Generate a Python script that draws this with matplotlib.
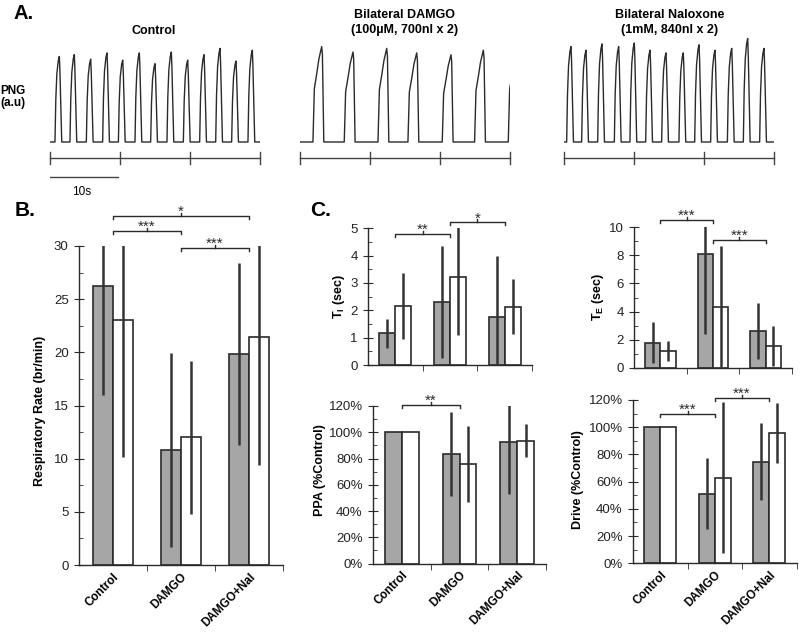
import numpy as np
import matplotlib
matplotlib.use('Agg')
import matplotlib.pyplot as plt
from matplotlib.ticker import MultipleLocator, FixedLocator, PercentFormatter

plt.rcParams['font.family'] = ['Liberation Sans', 'DejaVu Sans']
plt.rcParams['mathtext.fontset'] = 'custom'
plt.rcParams['mathtext.rm'] = 'Liberation Sans'
plt.rcParams['mathtext.bf'] = 'Liberation Sans:bold'

W, H = 800, 633

# ---- A. phrenic neurogram: burst peak times (s) and peak heights (a.u.)
ctrl_peak_t = [1.33, 3.47, 5.81, 8.14, 10.39, 12.76, 15.0, 17.33, 19.67, 22.0, 24.29, 26.57, 28.9]
ctrl_peak_h = [0.95, 0.97, 0.92, 0.99, 0.91, 0.99, 0.87, 1.0, 0.91, 0.97, 1.04, 0.9, 1.02]
damgo_peak_t = [3.1, 7.57, 12.39, 16.67, 21.57, 26.19, 31.0]
damgo_peak_h = [1.06, 1.0, 1.04, 0.99, 0.97, 1.02, 1.05]
nal_peak_t = [1.0, 3.14, 5.43, 7.81, 10.04, 12.29, 14.57, 17.04, 19.29, 21.57, 23.96, 26.24, 28.57]
nal_peak_h = [1.06, 1.02, 1.09, 1.06, 1.1, 1.02, 0.99, 0.99, 1.08, 1.02, 1.04, 1.15, 1.04]
trace_titles = ['Control', 'Bilateral DAMGO\n(100µM, 700nl x 2)', 'Bilateral Naloxone\n(1mM, 840nl x 2)']

# ---- B/C. group means and errors (grey bars, white bars)
conditions = ['Control', 'DAMGO', 'DAMGO+Nal']
rr_grey = [26.2, 10.8, 19.85]
rr_grey_err = [10.2, 9.1, 8.55]
rr_white = [23.0, 12.0, 21.4]
rr_white_err = [12.8, 7.2, 12.0]

ti_grey = [1.16, 2.3, 1.77]
ti_grey_err = [0.52, 2.05, 2.2]
ti_white = [2.16, 3.21, 2.13]
ti_white_err = [1.2, 2.1, 1.0]

te_grey = [1.78, 8.07, 2.61]
te_grey_err = [1.45, 5.7, 2.0]
te_white = [1.19, 4.35, 1.55]
te_white_err = [0.7, 4.3, 1.45]

ppa_grey = [1.0, 0.836, 0.922]
ppa_grey_err = [0.0, 0.32, 0.39]
ppa_white = [1.0, 0.757, 0.937]
ppa_white_err = [0.0, 0.29, 0.126]

drive_grey = [1.0, 0.512, 0.746]
drive_grey_err = [0.0, 0.263, 0.282]
drive_white = [1.0, 0.629, 0.955]
drive_white_err = [0.0, 0.555, 0.22]

# significance brackets: (from, to, height, label)
rr_sig = [(0, 2, 32.85, '*'), (0, 1, 31.4, '***'), (1, 2, 29.8, '***')]
ti_sig = [(0, 1, 4.79, '**'), (1, 2, 5.22, '*')]
te_sig = [(0, 1, 10.5, '***'), (1, 2, 9.1, '***')]
ppa_sig = [(0, 1, 1.21, '**')]
drive_sig = [(0, 1, 1.096, '***'), (1, 2, 1.217, '***')]

DARK = '#2a2a2a'
GREY = '#a6a6a6'


def px_rect(left, top, right, bottom):
    return [left / W, 1 - bottom / H, (right - left) / W, (bottom - top) / H]


def burst_trace(peak_t, peak_h, shape, t_end=30.0):
    t = [0.0]
    v = [0.0]
    for pt, ph in zip(peak_t, peak_h):
        for dt, frac in shape:
            t.append(pt + dt)
            v.append(ph * frac)
    if t[-1] < t_end:
        t.append(t_end)
        v.append(0.0)
    return np.array(t), np.array(v)


fast_shape = [(-0.62, 0), (-0.5, 0.5), (-0.35, 0.8), (-0.15, 0.95), (0, 1.0), (0.08, 0.85), (0.35, 0.0)]
slow_shape = [(-1.25, 0), (-1.05, 0.56), (-0.7, 0.72), (-0.4, 0.87), (0, 1.0), (0.1, 0.92), (0.3, 0.0)]

fig = plt.figure(figsize=(W / 100, H / 100), dpi=100)

# ---------------- panel A
trace_data = [(ctrl_peak_t, ctrl_peak_h, fast_shape),
              (damgo_peak_t, damgo_peak_h, slow_shape),
              (nal_peak_t, nal_peak_h, fast_shape)]
trace_left = [50, 300, 564]
y_base, px_unit = 142, 90.0
for i, (pt, ph, shp) in enumerate(trace_data):
    ax = fig.add_axes(px_rect(trace_left[i], 36, trace_left[i] + 210, 200))
    ax.set_xlim(0, 30)
    ax.set_ylim(-(200 - y_base) / px_unit, (y_base - 36) / px_unit)
    ax.axis('off')
    t, v = burst_trace(pt, ph, shp)
    ax.plot(t, v, color=DARK, lw=1.0)
    # time base with 10 s ticks
    ty = -(158 - y_base) / px_unit
    dy = 6 / px_unit
    ax.plot([0, 30], [ty, ty], color='#444', lw=1.0, clip_on=False)
    for tk in [0, 10, 20, 30]:
        ax.plot([tk, tk], [ty - dy, ty + dy], color='#444', lw=1.0, clip_on=False)
    if i == 0:
        sy = -(177 - y_base) / px_unit
        ax.plot([0, 9.7], [sy, sy], color='#444', lw=1.0)
        ax.text(4.5, -(195 - y_base) / px_unit, '10s', ha='center', va='baseline', fontsize=8.5)

fig.text(154 / W, 1 - 34 / H, trace_titles[0], ha='center', va='baseline', fontsize=9, fontweight='bold')
for xc, title in [(405, trace_titles[1]), (670, trace_titles[2])]:
    l1, l2 = title.split('\n')
    fig.text(xc / W, 1 - 18.5 / H, l1, ha='center', va='baseline', fontsize=9, fontweight='bold')
    fig.text(xc / W, 1 - 33 / H, l2, ha='center', va='baseline', fontsize=9, fontweight='bold')
fig.text(13 / W, 1 - 94 / H, 'PNG', ha='center', va='baseline', fontsize=8.5, fontweight='bold')
fig.text(13 / W, 1 - 106 / H, '(a.u)', ha='center', va='baseline', fontsize=8.5, fontweight='bold')

fig.text(13 / W, 1 - 19 / H, 'A.', ha='left', va='baseline', fontsize=14.5, fontweight='bold')
fig.text(15 / W, 1 - 216.5 / H, 'B.', ha='left', va='baseline', fontsize=15, fontweight='bold')
fig.text(310 / W, 1 - 216.5 / H, 'C.', ha='left', va='baseline', fontsize=15, fontweight='bold')


# ---------------- bar panels
def bracket(ax, x0, x1, y, label):
    ymin, ymax = ax.get_ylim()
    d = 3 * (ymax - ymin) / (ax.get_position().height * H)
    ax.plot([x0, x0, x1, x1], [y - d, y, y, y - d], color=DARK, lw=1.0, clip_on=False)
    xm = (x0 + x1) / 2
    ax.plot([xm, xm], [y, y + d], color=DARK, lw=1.0, clip_on=False)
    ax.text(xm, y, label, ha='center', va='baseline', fontsize=11, color=DARK, clip_on=False)


def bar_panel(rect, grey, grey_err, white, white_err, ymax, major, minor, sig, pct=False, xlabels=True):
    ax = fig.add_axes(rect)
    x = np.arange(len(conditions))
    w = 0.29
    grey = np.array(grey)
    white = np.array(white)
    ge = np.array(grey_err)
    we = np.array(white_err)
    ax.bar(x - w / 2, grey, w, color=GREY, edgecolor=DARK, lw=1.2, zorder=1)
    ax.bar(x + w / 2, white, w, color='white', edgecolor=DARK, lw=1.2, zorder=1)
    m = ge > 0
    ax.vlines((x - w / 2)[m], (grey - ge)[m], (grey + ge)[m], color='#333', lw=1.8, zorder=3)
    m = we > 0
    ax.vlines((x + w / 2)[m], (white - we)[m], (white + we)[m], color='#333', lw=1.8, zorder=3)
    ax.set_xlim(-0.5, 2.5)
    ax.set_ylim(0, ymax)
    for s in ['top', 'right']:
        ax.spines[s].set_visible(False)
    for s in ['left', 'bottom']:
        ax.spines[s].set_color(DARK)
        ax.spines[s].set_linewidth(1.0)
    ax.set_xticks(x)
    if xlabels:
        ax.set_xticklabels(conditions, rotation=45, ha='right', va='top', rotation_mode='anchor',
                           fontweight='bold', fontsize=8.5)
    else:
        ax.set_xticklabels([])
    ax.xaxis.set_minor_locator(FixedLocator([0.5, 1.5, 2.5]))
    ax.tick_params(axis='x', which='major', length=0, pad=4)
    ax.tick_params(axis='x', which='minor', length=4, direction='out', color=DARK)
    ax.yaxis.set_major_locator(MultipleLocator(major))
    ax.yaxis.set_minor_locator(MultipleLocator(minor))
    ax.tick_params(axis='y', which='major', direction='inout', length=7, color=DARK, labelsize=9.5, pad=4, labelcolor='#222')
    ax.tick_params(axis='y', which='minor', direction='in', length=3, color=DARK)
    if pct:
        ax.yaxis.set_major_formatter(PercentFormatter(xmax=1, decimals=0))
    for x0, x1, y, lab in sig:
        bracket(ax, x0, x1, y, lab)
    return ax


bar_panel(px_rect(79, 246, 283, 565), rr_grey, rr_grey_err, rr_white, rr_white_err, 30, 5, 2.5, rr_sig)
bar_panel(px_rect(368, 228.3, 532, 365), ti_grey, ti_grey_err, ti_white, ti_white_err, 5, 1, 0.5, ti_sig, xlabels=False)
bar_panel(px_rect(634, 227.3, 792, 367.7), te_grey, te_grey_err, te_white, te_white_err, 10, 2, 1, te_sig, xlabels=False)
bar_panel(px_rect(373, 406, 546, 563.5), ppa_grey, ppa_grey_err, ppa_white, ppa_white_err, 1.2, 0.2, 0.1, ppa_sig, pct=True)
bar_panel(px_rect(633, 400, 796.5, 563.3), drive_grey, drive_grey_err, drive_white, drive_white_err, 1.2, 0.2, 0.1, drive_sig, pct=True)

ylabels = [(40, 411, 'Respiratory Rate (br/min)'),
           (339, 297, r'T$_\mathbf{I}$ (sec)'),
           (598, 297, r'T$_\mathbf{E}$ (sec)'),
           (320, 470, 'PPA (%Control)'),
           (578, 480, 'Drive (%Control)')]
for xp, yp, lab in ylabels:
    fig.text(xp / W, 1 - yp / H, lab, rotation=90, ha='center', va='center', fontsize=9, fontweight='bold')

fig.savefig('out.png', dpi=100)
